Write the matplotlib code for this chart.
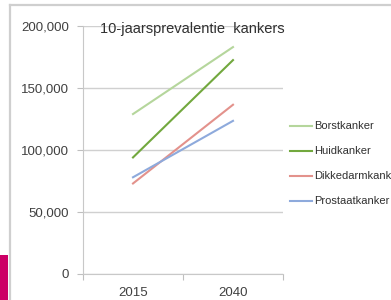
import matplotlib.pyplot as plt
from matplotlib.lines import Line2D
from matplotlib.patches import Rectangle

years = ['2015', '2040']
series = ['Borstkanker', 'Huidkanker', 'Dikkedarmkanker', 'Prostaatkanker']
borst = [129000, 183000]
huid = [94000, 172500]
dikkedarm = [73000, 136500]
prostaat = [78000, 123500]
colors = ['#b5d69c', '#72a83e', '#e3928c', '#8eaadc']

plt.rcParams['font.family'] = ['Liberation Sans', 'DejaVu Sans']

W, H = 391, 300
fig = plt.figure(figsize=(W / 100, H / 100), dpi=100)
fig.patch.set_facecolor('white')

# slide frame + magenta tab
fig.add_artist(Line2D([10 / W, 10 / W], [0, 1 - 5 / H], color='#cfcfcf', lw=1.6))
fig.add_artist(Line2D([10 / W, 1], [1 - 5 / H, 1 - 5 / H], color='#cfcfcf', lw=1.6))
fig.add_artist(Rectangle((0, 0), 8 / W, 45 / H, transform=fig.transFigure,
                         color='#cc0066', lw=0))

ax = fig.add_axes([83 / W, 26 / H, 200 / W, 248 / H])
x = [0.5, 1.5]
for vals, name, c in zip([borst, huid, dikkedarm, prostaat], series, colors):
    ax.plot(x, vals, color=c, lw=1.5, label=name)

ax.set_xlim(0, 2)
ax.set_ylim(0, 200000)
ax.set_yticks([0, 50000, 100000, 150000, 200000])
ax.set_yticklabels(['0', '50,000', '100,000', '150,000', '200,000'])
ax.set_xticks([0, 1, 2])
ax.set_xticklabels([])
ax.set_xticks(x, minor=True)
ax.set_xticklabels(years, minor=True)
ax.tick_params(axis='x', which='minor', length=0, pad=9, labelsize=9.5, colors='#404040')
ax.tick_params(axis='x', which='major', length=4, color='#bfbfbf')
ax.tick_params(axis='y', length=4, color='#bfbfbf', pad=6, labelsize=9.5, labelcolor='#404040')
ax.grid(axis='y', color='#d0d0d0', lw=1)
for s in ['top', 'right']:
    ax.spines[s].set_visible(False)
for s in ['left', 'bottom']:
    ax.spines[s].set_color('#c8c8c8')

fig.text(100 / W, 1 - 29 / H, '10-jaarsprevalentie  kankers', fontsize=10.5,
         color='#303030', va='center', ha='left')

ax.legend(loc='upper left', bbox_to_anchor=(286 / W, 1 - 117 / H),
          bbox_transform=fig.transFigure, frameon=False, fontsize=8,
          handlelength=1.9, handletextpad=0.2, labelspacing=1.35,
          borderaxespad=0, labelcolor='#303030')

fig.savefig('out.png', dpi=100)
